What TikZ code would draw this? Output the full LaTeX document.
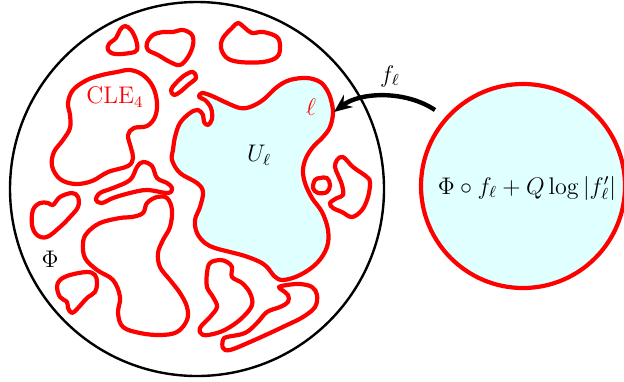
\documentclass[tikz,border=0pt]{standalone}
\usetikzlibrary{arrows.meta}
\definecolor{loopred}{RGB}{255,0,0}
\definecolor{pale}{RGB}{224,255,255}
\begin{document}
\begin{tikzpicture}[x=0.5pt,y=-0.5pt,
  loopline/.style={draw=loopred,line width=2.1pt,line join=round},
  rim/.style={draw=black,line width=1.2pt},
  lbl/.style={inner sep=1pt,font=\fontsize{12}{14}\selectfont}]
\useasboundingbox (0,0) rectangle (624,381);
% outer disk
\node[rim,circle,minimum size=187pt,inner sep=0pt] (disk) at (197,189) {};
% U_ell
\filldraw[loopline,fill=pale] plot[smooth cycle,tension=0.6] coordinates {
 (173,150) (175,137) (180,123) (190,113) (198,110) (203,115) (204,122) (208,125)
 (212,119) (211,108) (205,100) (199,97) (202,93) (212,96) (227,103) (240,108)
 (250,107) (263,100) (277,87) (290,80) (307,78) (320,82) (327,90) (331,100)
 (333,113) (330,127) (323,137) (313,147) (306,158) (303,170) (305,183) (312,198)
 (322,212) (328,230) (327,247) (317,263) (300,275) (283,280) (274,276) (268,268)
 (260,262) (245,256) (230,252) (215,248) (205,243) (197,233) (195,220) (200,207)
 (203,192) (197,183) (180,173) (172,160)};
% other loops
\draw[loopline] plot[smooth cycle,tension=0.6] coordinates {
 (125,26) (131,30) (136,40) (137,50) (130,53) (115,54) (108,50) (109,44) (116,38) (120,30)};
\draw[loopline] plot[smooth cycle,tension=0.6] coordinates {
 (147,43) (153,35) (163,32) (173,32) (183,30) (192,35) (193,45) (188,57) (180,65) (170,62) (158,55) (148,50)};
\draw[loopline] plot[smooth cycle,tension=0.6] coordinates {
 (193,72) (196,78) (188,85) (180,92) (174,95) (171,90) (176,83) (185,75)};
\draw[loopline] plot[smooth cycle,tension=0.6] coordinates {
 (223,38) (232,28) (238,23) (245,28) (252,33) (263,32) (277,37) (280,47) (277,57)
 (263,62) (240,62) (227,58) (221,48)};
\draw[loopline] plot[smooth cycle,tension=0.6] coordinates {
 (87,80) (102,75) (117,72) (130,70) (143,75) (153,87) (157,103) (155,117) (147,126)
 (134,128) (128,135) (131,148) (133,158) (128,166) (108,172) (92,181) (75,184)
 (60,179) (52,166) (54,152) (63,140) (70,128) (70,115) (68,103) (73,90)};
\draw[loopline] plot[smooth cycle,tension=0.6] coordinates {
 (96,200) (100,193) (113,188) (130,180) (137,167) (143,162) (152,166) (157,178)
 (167,183) (172,188) (168,193) (147,190) (130,193) (113,198) (102,203)};
\draw[loopline] plot[smooth cycle,tension=0.6] coordinates {
 (85,258) (83,243) (87,233) (100,223) (120,218) (132,217) (143,213) (147,203)
 (157,197) (167,198) (172,210) (170,227) (163,240) (158,253) (160,267) (170,280)
 (180,293) (187,307) (187,320) (177,332) (160,335) (140,333) (123,327) (118,313)
 (120,297) (113,280) (97,270)};
\draw[loopline] plot[smooth cycle,tension=0.6] coordinates {
 (33,210) (40,203) (48,203) (53,205) (60,197) (72,193) (78,197) (78,207) (70,217)
 (60,227) (47,237) (37,235) (32,225)};
\draw[loopline] plot[smooth cycle,tension=0.6] coordinates {
 (57,287) (60,280) (70,275) (87,272) (95,275) (97,283) (95,292) (87,298) (78,308)
 (72,313) (68,308) (67,302) (60,297)};
\draw[loopline] plot[smooth cycle,tension=0.6] coordinates {
 (210,263) (220,260) (227,262) (232,267) (232,277) (242,283) (250,293) (252,305)
 (243,317) (230,327) (217,333) (203,335) (200,328) (210,317) (217,307) (213,297)
 (207,287) (207,273)};
\draw[loopline] plot[smooth cycle,tension=0.6] coordinates {
 (223,340) (227,337) (245,333) (257,323) (267,312) (280,307) (288,302) (288,295)
 (282,290) (279,287) (287,285) (300,284) (312,287) (317,295) (315,307) (303,317)
 (287,325) (270,333) (250,342) (230,350) (223,348)};
\draw[loopline] plot[smooth cycle,tension=0.6] coordinates {
 (315,180) (320,178) (327,178) (330,185) (327,192) (318,193) (313,188)};
\draw[loopline] plot[smooth cycle,tension=0.6] coordinates {
 (337,160) (343,157) (353,167) (367,177) (370,183) (368,197) (362,210) (352,217)
 (342,212) (333,208) (330,203) (337,198) (343,195) (342,185) (338,175) (335,167)};
% labels
\node[lbl,text=loopred] (cle) at (115,97) {$\mathrm{CLE}_4$};
\node[lbl,text=loopred] (ell) at (311,107) {$\ell$};
\node[lbl] (ul) at (259,155) {$U_\ell$};
\node[lbl] (phi) at (50,259) {$\Phi$};
% right disk
\node[circle,draw=loopred,line width=2.1pt,fill=pale,minimum size=102pt,inner sep=0pt] (rc) at (523,186) {};
\node[lbl] (form) at (527,188) {$\Phi\circ f_\ell+Q\log|f'_\ell|$};
% arrow
\coordinate (tail) at (435,110);
\coordinate (tip) at (334,112);
\draw[line width=2.2pt,-{Stealth[length=9pt,width=7.5pt]}] (tail) .. controls (405,90) and (360,92) .. (tip);
\node[lbl] (fl) at (390,76) {$f_\ell$};
\end{tikzpicture}
\end{document}
